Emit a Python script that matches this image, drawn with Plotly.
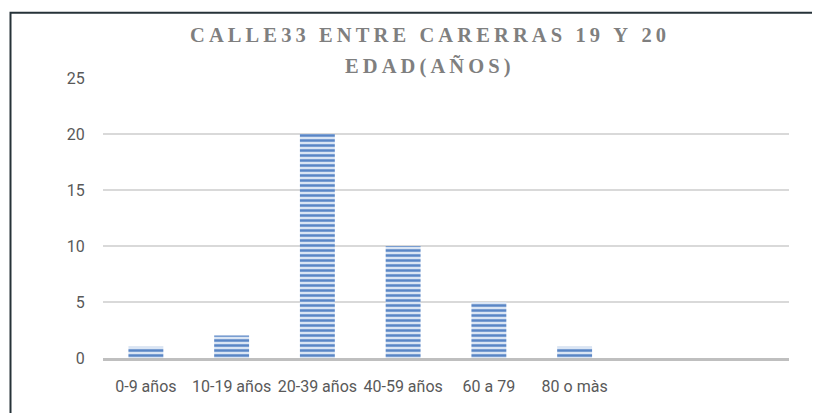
import plotly.graph_objects as go

categories = ["0-9 años", "10-19 años", "20-39 años", "40-59 años", "60 a 79", "80 o màs"]
values = [1, 2, 20, 10, 5, 1]
title_line1 = "CALLE33 ENTRE CARERRAS 19 Y 20"
title_line2 = "EDAD(AÑOS)"
y_ticks = [0, 5, 10, 15, 20, 25]


def spaced(s):
    return "\u2009".join(list(s))


# page body has an 8px offset; plot area is kept at screen x 103..789, y 78..358
PX0, PY0, PW, PH = 103, 358, 686, 280


def px(x):
    return (x - PX0) / PW


def py(y):
    return (PY0 - y) / PH


fig = go.Figure()
fig.add_trace(go.Bar(
    x=categories,
    y=values,
    marker=dict(
        color="#dae5f4",
        line=dict(width=0),
        pattern=dict(shape="-", fgcolor="#5a86c6", bgcolor="#dae5f4",
                     size=5, solidity=0.5, fillmode="replace"),
    ),
    showlegend=False,
))

tick_font = dict(family="Roboto, Liberation Sans, Arial", size=16, color="#595959")

fig.update_layout(
    width=820, height=413,
    margin=dict(l=95, r=39, t=70, b=63),
    paper_bgcolor="white", plot_bgcolor="white",
    bargap=0.593,
    xaxis=dict(
        type="category",
        categoryorder="array", categoryarray=categories,
        range=[-0.5, 7.5],
        showgrid=False,
        showline=True, linecolor="#bfbfbf", linewidth=2.5,
        ticks="outside", ticklen=12, tickcolor="rgba(0,0,0,0)",
        tickangle=0, automargin=False,
        tickfont=tick_font,
        fixedrange=True,
    ),
    yaxis=dict(
        range=[0, 25],
        tickvals=y_ticks,
        showgrid=True, gridcolor="#d9d9d9", gridwidth=1.5,
        zeroline=False, showline=False,
        ticks="outside", ticklen=14, tickcolor="rgba(0,0,0,0)",
        automargin=False,
        tickfont=tick_font,
    ),
    annotations=[
        dict(text=spaced(title_line1), xref="paper", yref="paper",
             x=px(428), y=py(35),
             xanchor="center", yanchor="middle", showarrow=False,
             font=dict(family="Liberation Serif, Times New Roman, serif", size=20.5,
                       color="#7f7f7f", weight="bold")),
        dict(text=spaced(title_line2), xref="paper", yref="paper",
             x=px(428), y=py(67),
             xanchor="center", yanchor="middle", showarrow=False,
             font=dict(family="Liberation Serif, Times New Roman, serif", size=20.5,
                       color="#7f7f7f", weight="bold")),
    ],
    shapes=[
        dict(type="rect", xref="paper", yref="paper",
             x0=px(10.5), x1=1.2, y0=-0.4, y1=py(12.7),
             line=dict(color="#263238", width=2), fillcolor="rgba(0,0,0,0)", layer="above"),
    ],
)

fig.write_html("out.html")
